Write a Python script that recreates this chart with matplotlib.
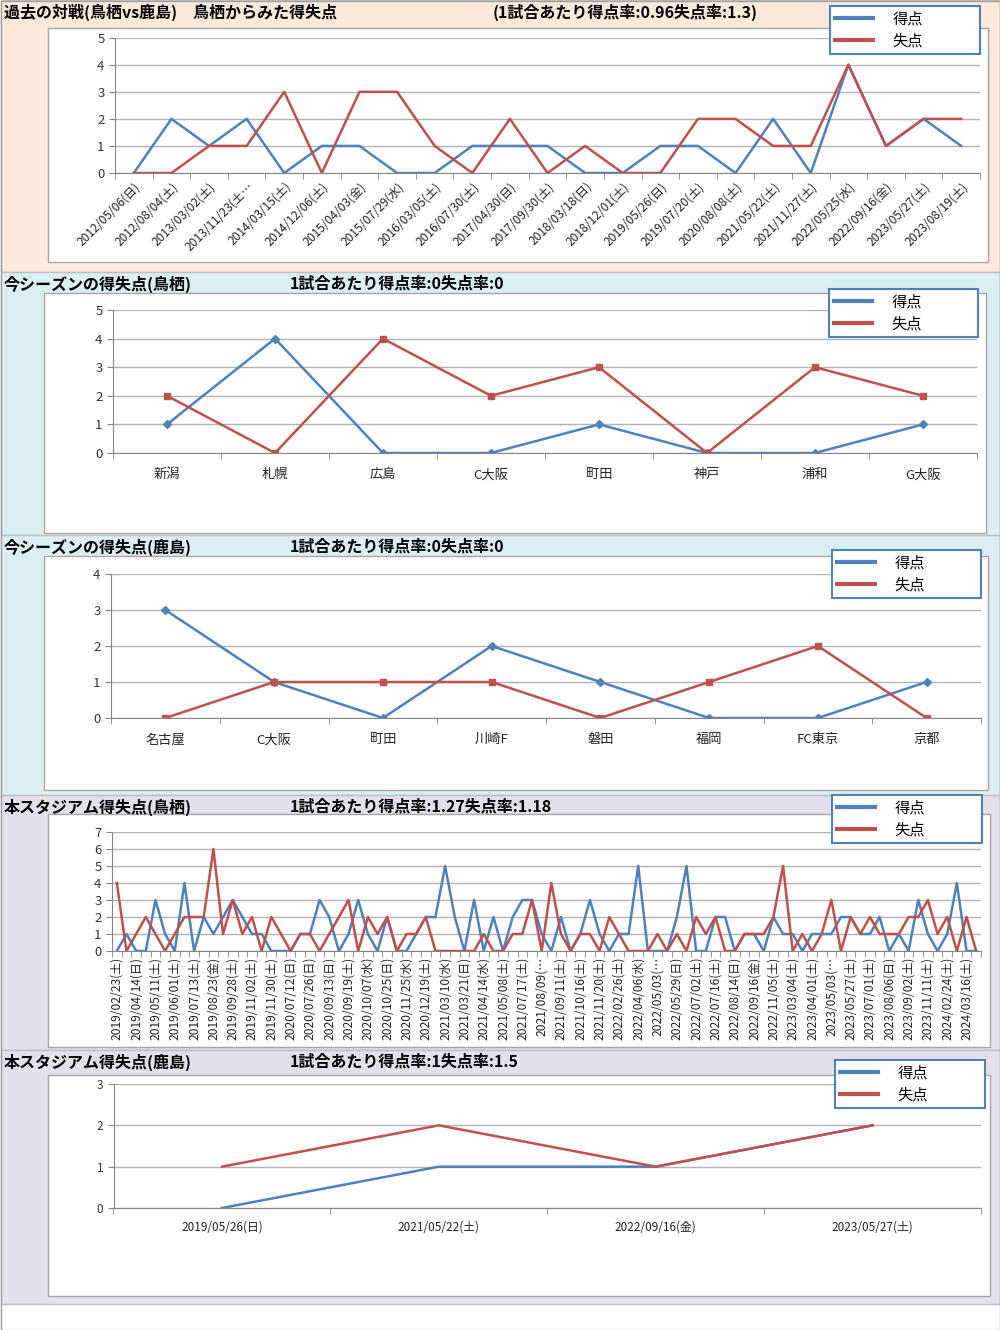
import numpy as np
import matplotlib
matplotlib.use("Agg")
import matplotlib.pyplot as plt
from matplotlib.patches import Rectangle
from matplotlib.lines import Line2D

plt.rcParams['font.family'] = ['Noto Sans CJK JP', 'DejaVu Sans']

# ---- data ----
p1_dates = ["2012/05/06(日)", "2012/08/04(土)", "2013/03/02(土)", "2013/11/23(土…",
            "2014/03/15(土)", "2014/12/06(土)", "2015/04/03(金)", "2015/07/29(水)",
            "2016/03/05(土)", "2016/07/30(土)", "2017/04/30(日)", "2017/09/30(土)",
            "2018/03/18(日)", "2018/12/01(土)", "2019/05/26(日)", "2019/07/20(土)",
            "2020/08/08(土)", "2021/05/22(土)", "2021/11/27(土)", "2022/05/25(水)",
            "2022/09/16(金)", "2023/05/27(土)", "2023/08/19(土)"]
p1_for = [0, 2, 1, 2, 0, 1, 1, 0, 0, 1, 1, 1, 0, 0, 1, 1, 0, 2, 0, 4, 1, 2, 1]
p1_against = [0, 0, 1, 1, 3, 0, 3, 3, 1, 0, 2, 0, 1, 0, 0, 2, 2, 1, 1, 4, 1, 2, 2]

p2_teams = ["新潟", "札幌", "広島", "C大阪", "町田", "神戸", "浦和", "G大阪"]
p2_for = [1, 4, 0, 0, 1, 0, 0, 1]
p2_against = [2, 0, 4, 2, 3, 0, 3, 2]

p3_teams = ["名古屋", "C大阪", "町田", "川崎F", "磐田", "福岡", "FC東京", "京都"]
p3_for = [3, 1, 0, 2, 1, 0, 0, 1]
p3_against = [0, 1, 1, 1, 0, 1, 2, 0]

# home stadium, every match (labels shown for every other match)
p4_for = [0, 1, 0, 0, 3, 1, 0, 4, 0, 2,
          1, 2, 3, 2, 1, 1, 0, 0, 0, 1,
          1, 3, 2, 0, 1, 3, 1, 0, 2, 0,
          0, 1, 2, 2, 5, 2, 0, 3, 0, 2,
          0, 2, 3, 3, 1, 0, 2, 0, 1, 3,
          1, 0, 1, 1, 5, 0, 0, 0, 2, 5,
          0, 0, 2, 2, 0, 1, 1, 0, 2, 1,
          1, 0, 1, 1, 1, 2, 2, 1, 1, 2,
          0, 1, 0, 3, 1, 0, 1, 4, 0, 0]
p4_against = [4, 0, 1, 2, 1, 0, 1, 2, 2, 2,
              6, 1, 3, 1, 2, 0, 2, 1, 0, 1,
              1, 0, 1, 2, 3, 0, 2, 1, 2, 0,
              1, 1, 2, 0, 0, 0, 0, 0, 1, 0,
              0, 1, 1, 3, 0, 4, 1, 0, 1, 1,
              0, 2, 1, 0, 0, 0, 1, 0, 1, 0,
              2, 1, 2, 0, 0, 1, 1, 1, 2, 5,
              0, 1, 0, 1, 3, 0, 2, 1, 2, 1,
              1, 1, 2, 2, 3, 1, 2, 0, 2, 0]
p4_ticklabels = ["2019/02/23(土)", "2019/04/14(日)", "2019/05/11(土)", "2019/06/01(土)",
                 "2019/07/13(土)", "2019/08/23(金)", "2019/09/28(土)", "2019/11/02(土)",
                 "2019/11/30(土)", "2020/07/12(日)", "2020/07/26(日)", "2020/09/13(日)",
                 "2020/09/19(土)", "2020/10/07(水)", "2020/10/25(日)", "2020/11/25(水)",
                 "2020/12/19(土)", "2021/03/10(水)", "2021/03/21(日)", "2021/04/14(水)",
                 "2021/05/08(土)", "2021/07/17(土)", "2021/08/09(…", "2021/09/11(土)",
                 "2021/10/16(土)", "2021/11/20(土)", "2022/02/26(土)", "2022/04/06(水)",
                 "2022/05/03(…", "2022/05/29(日)", "2022/07/02(土)", "2022/07/16(土)",
                 "2022/08/14(日)", "2022/09/16(金)", "2022/11/05(土)", "2023/03/04(土)",
                 "2023/04/01(土)", "2023/05/03(…", "2023/05/27(土)", "2023/07/01(土)",
                 "2023/08/06(日)", "2023/09/02(土)", "2023/11/11(土)", "2024/02/24(土)",
                 "2024/03/16(土)"]

p5_dates = ["2019/05/26(日)", "2021/05/22(土)", "2022/09/16(金)", "2023/05/27(土)"]
p5_for = [0, 1, 1, 2]
p5_against = [1, 2, 1, 2]

BLUE = '#4F81BD'
RED = '#C0504D'
GRID = '#b3b3b3'
AXC = '#868686'
PEACH = '#FDE9D9'
LBLUE = '#DAEEF3'
LAV = '#E4DFEC'

W, H = 1000, 1330
fig = plt.figure(figsize=(10, 13.3), dpi=100)
bg = fig.add_axes([0, 0, 1, 1])
bg.set_xlim(0, W)
bg.set_ylim(H, 0)
bg.axis('off')


def px_axes(x0, y0, x1, y1):
    return fig.add_axes([x0 / W, 1 - y1 / H, (x1 - x0) / W, (y1 - y0) / H])


def panel(top, bottom, color, box, title, rate, rate_x):
    bg.add_patch(Rectangle((0.5, top), W - 1, bottom - top, fc=color, ec='#c0c0c0', lw=1))
    bx0, by0, bx1, by1 = box
    bg.add_patch(Rectangle((bx0, by0), bx1 - bx0, by1 - by0, fc='white', ec='#a6a6a6', lw=1))
    bg.text(4, top + 12, title, fontsize=11.5, weight='bold', va='center', ha='left')
    bg.text(rate_x, top + 12, rate, fontsize=11.5, weight='bold', va='center', ha='left')


def legend_box(x0, y0, x1, y1):
    handles = [Line2D([], [], color=BLUE, lw=3), Line2D([], [], color=RED, lw=3)]
    leg = fig.legend(handles, ['得点', '失点'], loc='upper left',
                     bbox_to_anchor=(x0 / W, 1 - y1 / H, (x1 - x0) / W, (y1 - y0) / H),
                     mode='expand', borderaxespad=0, fancybox=False, framealpha=1,
                     edgecolor=BLUE, fontsize=11, handlelength=2.5, handletextpad=1.3,
                     borderpad=0.3, labelspacing=0.3)
    leg.get_frame().set_linewidth(1.5)


def style_axes(ax, n, ymax, labels, tick_pos=None, fs=9, pad=5):
    ax.patch.set_alpha(0)
    ax.set_xlim(-0.5, n - 0.5)
    ax.set_ylim(0, ymax)
    ax.set_yticks(range(0, ymax + 1))
    ax.yaxis.grid(True, color=GRID, lw=1)
    ax.set_axisbelow(True)
    for s in ['top', 'right']:
        ax.spines[s].set_visible(False)
    for s in ['left', 'bottom']:
        ax.spines[s].set_color(AXC)
    if tick_pos is None:
        tick_pos = range(n)
    ax.set_xticks(list(tick_pos))
    ax.set_xticklabels(labels)
    ax.set_xticks(np.arange(-0.5, n, 1.0), minor=True)
    ax.tick_params(axis='x', which='major', length=0, pad=pad, labelsize=fs, colors='#222222')
    ax.tick_params(axis='x', which='minor', length=4, color=AXC)
    ax.tick_params(axis='y', length=4, color=AXC, labelsize=9.5, labelcolor='#333333')


# ---- panel 1 ----
panel(0, 272, PEACH, (48, 28, 988, 262), '過去の対戦(鳥栖vs鹿島)　鳥栖からみた得失点',
      '(1試合あたり得点率:0.96失点率:1.3)', 493)
ax1 = px_axes(115, 37.7, 980, 173)
x1 = np.arange(len(p1_dates))
ax1.plot(x1, p1_for, color=BLUE, lw=1.8)
ax1.plot(x1, p1_against, color=RED, lw=1.8)
style_axes(ax1, len(p1_dates), 5, p1_dates, fs=8.7)
for t in ax1.get_xticklabels():
    t.set_rotation(45)
    t.set_ha('right')
    t.set_va('top')
    t.set_rotation_mode('anchor')
legend_box(830, 6, 980, 57)

# ---- panel 2 ----
panel(272, 535, LBLUE, (44, 293, 986, 533), '今シーズンの得失点(鳥栖)',
      '1試合あたり得点率:0失点率:0', 290)
ax2 = px_axes(113, 310, 977, 453)
x2 = np.arange(len(p2_teams))
ax2.plot(x2, p2_for, color=BLUE, lw=1.8, marker='D', ms=4)
ax2.plot(x2, p2_against, color=RED, lw=1.8, marker='s', ms=5)
style_axes(ax2, len(p2_teams), 5, p2_teams, fs=9.5, pad=11)
legend_box(829, 289, 978, 339)

# ---- panel 3 ----
panel(535, 795, LBLUE, (44, 556, 988, 790), '今シーズンの得失点(鹿島)',
      '1試合あたり得点率:0失点率:0', 290)
ax3 = px_axes(111, 574, 981, 718)
x3 = np.arange(len(p3_teams))
ax3.plot(x3, p3_for, color=BLUE, lw=1.8, marker='D', ms=4)
ax3.plot(x3, p3_against, color=RED, lw=1.8, marker='s', ms=5)
style_axes(ax3, len(p3_teams), 4, p3_teams, fs=9.5, pad=11)
legend_box(832, 550, 981, 600)

# ---- panel 4 ----
panel(795, 1050, LAV, (48, 814, 990, 1047), '本スタジアム得失点(鳥栖)',
      '1試合あたり得点率:1.27失点率:1.18', 290)
ax4 = px_axes(112, 832, 981, 951)
x4 = np.arange(len(p4_for))
ax4.plot(x4, p4_for, color=BLUE, lw=1.8)
ax4.plot(x4, p4_against, color=RED, lw=1.8)
style_axes(ax4, len(p4_for), 7, p4_ticklabels, tick_pos=range(0, len(p4_for), 2),
           fs=8.7, pad=4)
for t in ax4.get_xticklabels():
    t.set_rotation(90)
    t.set_ha('center')
    t.set_va('top')
legend_box(832, 795, 982, 846)

# ---- panel 5 ----
panel(1050, 1304, LAV, (48, 1075, 990, 1296), '本スタジアム得失点(鹿島)',
      '1試合あたり得点率:1失点率:1.5', 290)
ax5 = px_axes(113.5, 1084, 981, 1208)
x5 = np.arange(len(p5_dates))
ax5.plot(x5, p5_for, color=BLUE, lw=1.8)
ax5.plot(x5, p5_against, color=RED, lw=1.8)
style_axes(ax5, len(p5_dates), 3, p5_dates, fs=8.5, pad=9)
ax5.tick_params(axis='y', labelsize=8.5)
legend_box(835, 1060, 985, 1112)

bg.add_patch(Rectangle((0.5, 0.5), W - 1, H - 1, fc='none', ec='#a0a0a0', lw=1))

fig.savefig('out.png', dpi=100)
